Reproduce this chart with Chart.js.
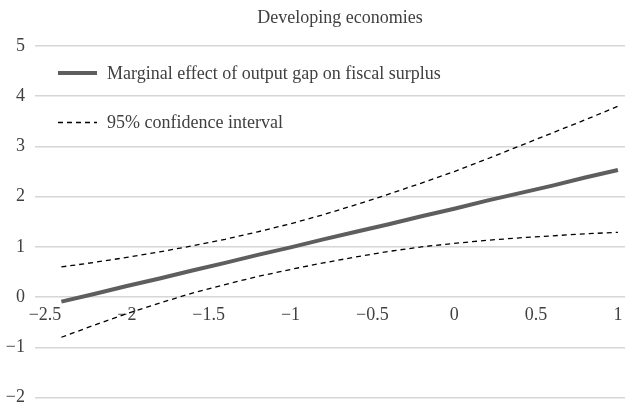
<!DOCTYPE html>
<html>
<head>
<meta charset="utf-8">
<script src="https://cdn.jsdelivr.net/npm/chart.js@4/dist/chart.umd.min.js"></script>
<style>
  html, body { margin: 0; padding: 0; background: #ffffff; }
  #wrap { width: 627px; height: 404px; position: relative; }
</style>
</head>
<body>
<div id="wrap"><canvas id="chart" width="627" height="404"></canvas></div>
<script>
// Output gap (x) at which the marginal effect is evaluated
const outputGap = [-2.4, -2.2, -2.0, -1.8, -1.6, -1.4, -1.2, -1.0, -0.8, -0.6,
                   -0.4, -0.2, 0.0, 0.2, 0.4, 0.6, 0.8, 1.0];

// Marginal effect of output gap on fiscal surplus
const marginalEffect = [-0.09, 0.06, 0.22, 0.37, 0.53, 0.68, 0.84, 0.99, 1.15, 1.30,
                        1.45, 1.61, 1.76, 1.92, 2.07, 2.22, 2.38, 2.53];

// 95% confidence interval bounds
const ciUpper = [0.60, 0.69, 0.79, 0.90, 1.02, 1.15, 1.30, 1.46, 1.64, 1.84,
                 2.05, 2.27, 2.50, 2.75, 3.01, 3.27, 3.53, 3.80];
const ciLower = [-0.80, -0.56, -0.33, -0.12, 0.08, 0.25, 0.41, 0.55, 0.68, 0.80,
                 0.91, 1.00, 1.07, 1.13, 1.18, 1.22, 1.26, 1.29];

// Axis ticks
const xTicks = [-2.5, -2, -1.5, -1, -0.5, 0, 0.5, 1];
const yTicks = [-2, -1, 0, 1, 2, 3, 4, 5];

const chartTitle = 'Developing economies';
const labelMain = 'Marginal effect of output gap on fiscal surplus';
const labelCI = '95% confidence interval';

const FONT = "'Liberation Serif', 'Times New Roman', serif";
const TEXT = '#404040';
const FONT_SIZE = 18;

const toPoints = arr => outputGap.map((x, i) => ({ x: x, y: arr[i] }));
const fmt = v => String(v).replace('-', '\u2212');

// Title and in-plot legend
const overlay = {
  id: 'overlay',
  afterDraw(chart) {
    const ctx = chart.ctx;
    const area = chart.chartArea;
    ctx.save();
    ctx.font = FONT_SIZE + 'px ' + FONT;
    ctx.fillStyle = TEXT;
    ctx.textAlign = 'center';
    ctx.textBaseline = 'middle';
    ctx.fillText(chartTitle, 340, 18);

    const items = chart.data.datasets.filter(d => d.legend);
    const x0 = area.left + 23;
    const sample = 39;
    items.forEach((d, i) => {
      const y = 73 + i * 49.5;
      ctx.beginPath();
      ctx.strokeStyle = d.borderColor;
      ctx.lineWidth = d.borderWidth;
      ctx.setLineDash(d.borderDash || []);
      ctx.moveTo(x0, y);
      ctx.lineTo(x0 + sample, y);
      ctx.stroke();
      ctx.setLineDash([]);
      ctx.textAlign = 'left';
      ctx.fillStyle = TEXT;
      ctx.fillText(d.label, x0 + sample + 10, y + 1);
    });
    ctx.restore();
  }
};

new Chart(document.getElementById('chart'), {
  type: 'line',
  data: {
    datasets: [
      {
        label: labelMain,
        legend: true,
        data: toPoints(marginalEffect),
        borderColor: '#5e5e5e',
        borderWidth: 4,
        pointRadius: 0,
        tension: 0
      },
      {
        label: labelCI,
        legend: true,
        data: toPoints(ciUpper),
        borderColor: '#000000',
        borderWidth: 1.3,
        borderDash: [5, 4],
        pointRadius: 0,
        tension: 0
      },
      {
        label: labelCI,
        legend: false,
        data: toPoints(ciLower),
        borderColor: '#000000',
        borderWidth: 1.3,
        borderDash: [5, 4],
        pointRadius: 0,
        tension: 0
      }
    ]
  },
  options: {
    responsive: false,
    animation: false,
    layout: { padding: { top: 46, right: 2, bottom: 6.5, left: 0 } },
    plugins: {
      legend: { display: false },
      title: { display: false },
      tooltip: { enabled: false }
    },
    scales: {
      x: {
        type: 'linear',
        position: { y: 0 },
        min: -2.561,
        max: 1.043,
        afterBuildTicks: s => { s.ticks = xTicks.map(v => ({ value: v })); },
        afterFit: s => { s.height = 0; s.paddingTop = 0; s.paddingBottom = 0; s.paddingLeft = 0; s.paddingRight = 0; },
        grid: { display: false, drawTicks: false },
        border: { display: false },
        ticks: {
          padding: 7,
          maxRotation: 0,
          autoSkip: false,
          color: TEXT,
          font: { family: FONT, size: FONT_SIZE },
          callback: v => fmt(v)
        }
      },
      y: {
        type: 'linear',
        min: -2,
        max: 5,
        afterBuildTicks: s => { s.ticks = yTicks.map(v => ({ value: v })); },
        afterFit: s => { s.width = 35; s.paddingTop = 0; s.paddingBottom = 0; },
        grid: { color: '#d6d6d6', lineWidth: 1.5, drawTicks: false },
        border: { display: false },
        ticks: {
          padding: 10,
          color: TEXT,
          font: { family: FONT, size: FONT_SIZE },
          callback: v => fmt(v)
        }
      }
    }
  },
  plugins: [overlay]
});
</script>
</body>
</html>
